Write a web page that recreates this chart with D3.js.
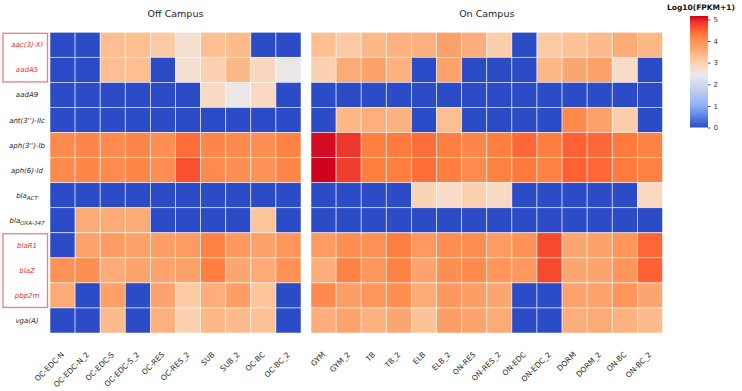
<!DOCTYPE html>
<html>
<head>
<meta charset="utf-8">
<script src="https://cdn.jsdelivr.net/npm/d3@7"></script>
<style>
  body { margin: 0; background: #fff; }
  text { font-family: "DejaVu Sans", sans-serif; }
</style>
</head>
<body>
<div id="main"></div>
<script>
// genes (rows); "_" marks a subscript part
var genes = ["aac(3)-XI", "aadA5", "aadA9", "ant(3'')-IIc", "aph(3'')-Ib", "aph(6)-Id",
             "bla_ACT", "bla_OXA-347", "blaR1", "blaZ", "pbp2m", "vga(A)"];
var highlighted = ["aac(3)-XI", "aadA5", "blaR1", "blaZ", "pbp2m"];

var offSamples = ["OC-EDC-N", "OC-EDC-N_2", "OC-EDC-S", "OC-EDC-S_2", "OC-RES", "OC-RES_2",
                  "SUB", "SUB_2", "OC-BC", "OC-BC_2"];
var onSamples = ["GYM", "GYM_2", "TB", "TB_2", "ELB", "ELB_2", "ON-RES", "ON-RES_2",
                 "ON-EDC", "ON-EDC_2", "DORM", "DORM_2", "ON-BC", "ON-BC_2"];

// log10(FPKM+1), one row per gene
var offValues = [
  [0, 0, 3.3, 3.3, 3.1, 2.7, 3.3, 3.35, 0, 0],
  [0, 0, 3.3, 3.3, 0, 2.7, 3.0, 3.4, 2.9, 2.45],
  [0, 0, 0, 0, 0, 0, 2.85, 2.45, 2.85, 0],
  [0, 0, 0, 0, 0, 0, 0, 0, 0, 0],
  [4.1, 4.15, 4.1, 4.15, 4.05, 4.4, 4.15, 4.1, 4.05, 4.2],
  [4.1, 4.15, 4.1, 4.15, 4.05, 4.65, 4.1, 4.05, 4.0, 4.15],
  [0, 0, 0, 0, 0, 0, 0, 0, 0, 0],
  [0, 3.6, 3.6, 3.6, 0, 0, 0, 0, 3.2, 0],
  [0, 3.7, 3.85, 3.75, 3.8, 3.85, 4.2, 3.9, 3.75, 3.95],
  [4.0, 4.05, 3.6, 3.7, 3.7, 3.75, 4.25, 3.65, 3.6, 4.0],
  [3.6, 0, 3.75, 0, 3.7, 3.1, 3.55, 3.8, 3.2, 0],
  [0, 0, 3.35, 0, 3.5, 3.0, 3.4, 3.35, 3.25, 0]
];
var onValues = [
  [3.3, 3.1, 3.4, 3.5, 3.5, 3.75, 3.55, 3.05, 0, 3.1, 3.25, 3.35, 3.6, 3.4],
  [3.0, 3.6, 3.75, 3.5, 0, 3.7, 0, 0, 0, 3.4, 3.65, 3.75, 2.8, 0],
  [0, 0, 0, 0, 0, 0, 0, 0, 0, 0, 0, 0, 0, 0],
  [0, 3.4, 3.55, 3.5, 0, 3.3, 0, 0, 0, 0, 4.1, 3.75, 3.05, 0],
  [5.1, 4.85, 4.25, 4.3, 4.4, 4.25, 4.15, 4.25, 4.45, 4.25, 4.5, 4.45, 4.3, 4.2],
  [5.15, 4.8, 4.25, 4.25, 4.4, 4.25, 4.1, 4.2, 4.3, 4.2, 4.5, 4.45, 4.3, 4.2],
  [0, 0, 0, 0, 2.95, 2.8, 3.0, 2.85, 0, 0, 0, 0, 0, 2.85],
  [0, 0, 0, 0, 0, 0, 0, 0, 0, 0, 0, 0, 0, 0],
  [3.85, 4.05, 4.0, 4.25, 3.9, 4.05, 4.05, 3.85, 4.0, 4.7, 3.65, 3.75, 3.95, 4.45],
  [3.55, 4.2, 3.95, 4.2, 3.7, 4.05, 4.1, 3.95, 3.9, 4.7, 3.65, 3.7, 3.95, 4.5],
  [4.1, 3.8, 3.95, 4.05, 3.6, 3.9, 3.8, 3.65, 0, 0, 3.7, 3.7, 3.95, 3.65],
  [3.55, 3.7, 3.5, 3.65, 3.25, 3.8, 3.7, 3.6, 0, 0, 3.55, 3.6, 3.5, 3.35]
];
var legendTicks = [0, 1, 2, 3, 4, 5];

var width = 742, height = 391;
var gridTop = 32.3, gridBottom = 333;

var svg = d3.select("#main")
  .append("svg")
    .attr("width", width)
    .attr("height", height);

// colour map, blue -> white -> red
var color = d3.scaleLinear()
  .domain([0, 0.5, 1.0, 1.7, 2.4, 2.8, 3.2, 3.6, 4.0, 4.3, 4.6, 4.9, 5.16])
  .range(["#2c4bc6", "#5a7fe2", "#8cb0f5", "#bdcdef", "#e9e8ec", "#f9dcc8", "#fdc59a",
          "#fcaa76", "#fe9256", "#ff7a3c", "#ff5530", "#e8322a", "#d0001f"])
  .clamp(true);

var yScale = d3.scaleBand()
  .domain(genes)
  .range([gridTop, gridBottom]);

function drawPanel(samples, values, x0, x1, title) {
  var xScale = d3.scaleBand()
    .domain(samples)
    .range([x0, x1]);

  var g = svg.append("g");
  values.forEach(function(row, i) {
    g.selectAll(".r" + i)
      .data(row)
      .enter()
      .append("rect")
        .attr("x", function(d, j) { return xScale(samples[j]); })
        .attr("y", yScale(genes[i]))
        .attr("width", xScale.bandwidth())
        .attr("height", yScale.bandwidth())
        .attr("fill", function(d) { return color(d); })
        .attr("stroke", "rgba(255,255,255,0.65)")
        .attr("stroke-width", 0.8);
  });

  // rotated sample labels
  g.selectAll(".xl")
    .data(samples)
    .enter()
    .append("text")
      .attr("transform", function(d) {
        return "translate(" + (xScale(d) + xScale.bandwidth() / 2 + 2) + ",355)rotate(-45)";
      })
      .style("text-anchor", "end")
      .style("font-size", "7.5px")
      .style("fill", "#262626")
      .text(function(d) { return d; });

  svg.append("text")
    .attr("x", (x0 + x1) / 2)
    .attr("y", 17)
    .style("text-anchor", "middle")
    .style("font-size", "9.5px")
    .style("fill", "#262626")
    .text(title);
}

drawPanel(offSamples, offValues, 50, 301, "Off Campus");
drawPanel(onSamples, onValues, 311, 662.5, "On Campus");

// gene labels, italic, with subscripts
genes.forEach(function(name) {
  var parts = name.split("_");
  var t = svg.append("text")
    .attr("x", 27)
    .attr("y", yScale(name) + yScale.bandwidth() / 2 + 2.5)
    .style("text-anchor", "middle")
    .style("font-size", "7px")
    .style("font-style", "italic")
    .style("fill", highlighted.indexOf(name) >= 0 ? "#ee2b2b" : "#262626");
  t.append("tspan").text(parts[0]);
  if (parts.length > 1) {
    t.append("tspan")
      .attr("dy", 2.5)
      .style("font-size", "5.5px")
      .text(parts[1]);
  }
});

// red boxes round the highlighted groups
[["aac(3)-XI", "aadA5"], ["blaR1", "pbp2m"]].forEach(function(grp) {
  var y1 = yScale(grp[0]) + 1;
  var y2 = yScale(grp[1]) + yScale.bandwidth() - 0.5;
  svg.append("rect")
    .attr("x", 3)
    .attr("y", y1)
    .attr("width", 44.5)
    .attr("height", y2 - y1)
    .attr("fill", "none")
    .attr("stroke", "#f27b7b")
    .attr("stroke-width", 1.3);
});

// colour bar
var legendScale = d3.scaleLinear()
  .domain([0, 5.16])
  .range([127.5, 16]);

var defs = svg.append("defs");
var grad = defs.append("linearGradient")
  .attr("id", "cbar")
  .attr("x1", "0").attr("y1", "1")
  .attr("x2", "0").attr("y2", "0");
d3.range(0, 41).forEach(function(k) {
  var v = 5.16 * k / 40;
  grad.append("stop")
    .attr("offset", (k / 40 * 100) + "%")
    .attr("stop-color", color(v));
});

svg.append("rect")
  .attr("x", 690)
  .attr("y", legendScale(5.16))
  .attr("width", 18)
  .attr("height", legendScale(0) - legendScale(5.16))
  .attr("fill", "url(#cbar)");

var legendAxis = svg.append("g")
  .attr("transform", "translate(708,0)")
  .call(d3.axisRight(legendScale).tickValues(legendTicks).tickFormat(d3.format("d"))
          .tickSize(2.5).tickPadding(3));
legendAxis.select(".domain").remove();
legendAxis.selectAll("line").attr("stroke", "#555");
legendAxis.selectAll("text")
  .style("font-size", "7px")
  .style("font-family", "DejaVu Sans, sans-serif")
  .style("fill", "#333");

svg.append("text")
  .attr("x", 701)
  .attr("y", 10)
  .style("text-anchor", "middle")
  .style("font-size", "7.5px")
  .style("font-weight", "bold")
  .style("fill", "#111")
  .text("Log10(FPKM+1)");
</script>
</body>
</html>
